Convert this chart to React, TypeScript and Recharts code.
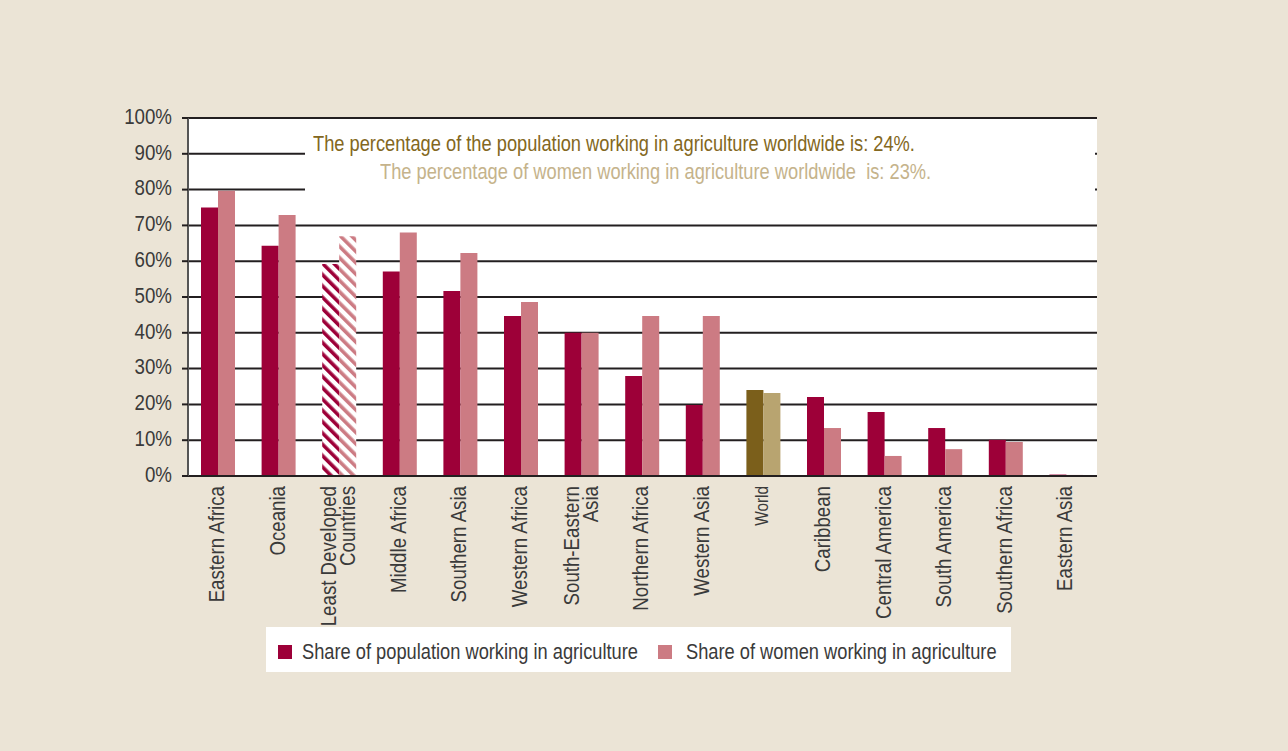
import { BarChart, Bar, XAxis, YAxis, CartesianGrid, Cell } from 'recharts'

const regions = [
  'Eastern Africa',
  'Oceania',
  'Least Developed\nCountries',
  'Middle Africa',
  'Southern Asia',
  'Western Africa',
  'South-Eastern\nAsia',
  'Northern Africa',
  'Western Asia',
  'World',
  'Caribbean',
  'Central America',
  'South America',
  'Southern Africa',
  'Eastern Asia',
]
const populationShare = [75, 64.3, 59.2, 57.1, 51.7, 44.7, 40, 27.9, 19.8, 24, 22.1, 17.9, 13.4, 10.1, 0.4]
const womenShare = [79.7, 72.9, 67, 68, 62.3, 48.6, 40, 44.7, 44.7, 23.2, 13.4, 5.6, 7.5, 9.5, 0.3]
const yTicks = [0, 10, 20, 30, 40, 50, 60, 70, 80, 90, 100]

const hatchedRegion = 'Least Developed\nCountries'
const worldRegion = 'World'

const seriesNames = ['Share of population working in agriculture', 'Share of women working in agriculture']
const notes = [
  'The percentage of the population working in agriculture worldwide is: 24%.',
  'The percentage of women working in agriculture worldwide  is: 23%.',
]

// no narrow font installed, so squeeze Liberation Sans horizontally
const FONT = '"Liberation Sans", Arial, sans-serif'
const SQUEEZE = 0.85
const HTML_SQUEEZE = 0.83
const POP = '#9d0038'
const WOMEN = '#cc7b83'
const WORLD_POP = '#7b5f1b'
const WORLD_WOMEN = '#b8a470'
const TEXT = '#3a3a3a'

const data = regions.map((name, i) => ({ name, population: populationShare[i], women: womenShare[i] }))

function RegionTick({ x, y, payload }: any) {
  const lines = String(payload.value).split('\n')
  const small = payload.value === worldRegion
  const size = small ? 18 : 22
  const offsets = lines.length > 1 ? [-11, 8] : [-2]
  return (
    <g>
      {lines.map((line, i) => (
        <text
          key={i}
          transform={`translate(${x + offsets[i]},${y + 2}) rotate(-90) scale(${SQUEEZE},1)`}
          textAnchor="end"
          dy="0.35em"
          fontFamily={FONT}
          fontSize={size}
          fill={TEXT}
        >
          {line}
        </text>
      ))}
    </g>
  )
}

function PercentTick({ x, y, payload }: any) {
  return (
    <text
      transform={`translate(${x},${y - 2}) scale(${SQUEEZE},1)`}
      textAnchor="end"
      dy="0.35em"
      fontFamily={FONT}
      fontSize={22}
      fill={TEXT}
    >
      {payload.value}%
    </text>
  )
}

const squeezed = {
  position: 'absolute' as const,
  fontSize: 22,
  lineHeight: '22px',
  whiteSpace: 'pre' as const,
  transform: `scaleX(${HTML_SQUEEZE})`,
  transformOrigin: 'left',
}

export default function App() {
  return (
    <div style={{ position: 'absolute', left: 0, top: 0, width: 1288, height: 751, background: '#ebe4d6', fontFamily: FONT }}>
      <svg width={0} height={0} style={{ position: 'absolute' }}>
        <defs>
          <pattern id="hatchPop" width="8" height="8" patternUnits="userSpaceOnUse" patternTransform="rotate(-45)">
            <rect width="8" height="8" fill="#fff" />
            <rect width="3.6" height="8" fill={POP} />
          </pattern>
          <pattern id="hatchWomen" width="8" height="8" patternUnits="userSpaceOnUse" patternTransform="rotate(-45)">
            <rect width="8" height="8" fill="#fff" />
            <rect width="3.6" height="8" fill={WOMEN} />
          </pattern>
        </defs>
      </svg>

      <BarChart
        width={1288}
        height={751}
        data={data}
        margin={{ top: 118, right: 191, bottom: 0, left: 0 }}
        barSize={17}
        barGap={0}
      >
        <CartesianGrid vertical={false} fill="#fff" stroke="#231f20" strokeWidth={2} />
        <XAxis
          dataKey="name"
          interval={0}
          height={275}
          tick={<RegionTick />}
          tickLine={false}
          axisLine={{ stroke: '#231f20', strokeWidth: 2 }}
        />
        <YAxis
          width={188}
          domain={[0, 100]}
          ticks={yTicks}
          tickSize={6}
          tickMargin={10}
          tickLine={{ stroke: '#231f20', strokeWidth: 2 }}
          axisLine={{ stroke: '#555', strokeWidth: 2 }}
          tick={<PercentTick />}
        />
        <Bar dataKey="population" isAnimationActive={false}>
          {data.map((d, i) => (
            <Cell key={i} fill={d.name === hatchedRegion ? 'url(#hatchPop)' : d.name === worldRegion ? WORLD_POP : POP} />
          ))}
        </Bar>
        <Bar dataKey="women" isAnimationActive={false}>
          {data.map((d, i) => (
            <Cell key={i} fill={d.name === hatchedRegion ? 'url(#hatchWomen)' : d.name === worldRegion ? WORLD_WOMEN : WOMEN} />
          ))}
        </Bar>
      </BarChart>

      {/* worldwide notes, drawn over the top gridlines */}
      <div style={{ position: 'absolute', left: 305, top: 128, width: 790, height: 68, background: '#fff' }}>
        <span style={{ ...squeezed, left: 8, top: 5, color: '#836721' }}>{notes[0]}</span>
        <span style={{ ...squeezed, left: 75, top: 33, color: '#c5b38b' }}>{notes[1]}</span>
      </div>

      {/* legend */}
      <div style={{ position: 'absolute', left: 266, top: 627, width: 745, height: 45, background: '#fff', color: TEXT }}>
        <span style={{ position: 'absolute', left: 12, top: 18, width: 14, height: 14, background: POP }} />
        <span style={{ ...squeezed, left: 36, top: 14 }}>{seriesNames[0]}</span>
        <span style={{ position: 'absolute', left: 392, top: 18, width: 14, height: 14, background: WOMEN }} />
        <span style={{ ...squeezed, left: 420, top: 14 }}>{seriesNames[1]}</span>
      </div>
    </div>
  )
}
